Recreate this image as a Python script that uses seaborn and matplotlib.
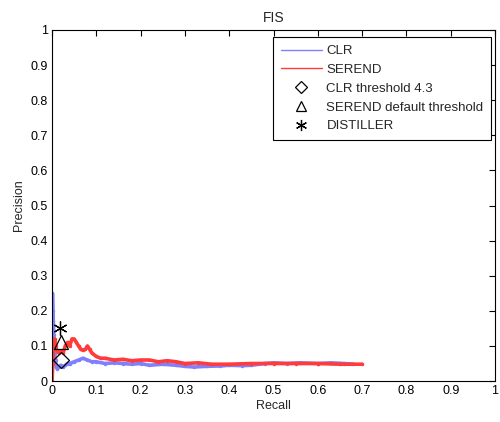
import numpy as np
import pandas as pd
import matplotlib
matplotlib.use("Agg")
import matplotlib.pyplot as plt
from matplotlib.lines import Line2D
import seaborn as sns

# CLR precision-recall curve
clr_recall = [0, 0.001, 0.002, 0.003, 0.004, 0.005, 0.006, 0.008, 0.01, 0.012, 0.015, 0.02,
              0.025, 0.03, 0.035, 0.04, 0.05, 0.06, 0.07, 0.08, 0.09, 0.1, 0.12, 0.14, 0.16,
              0.18, 0.2, 0.22, 0.25, 0.28, 0.3, 0.32, 0.35, 0.38, 0.4, 0.43, 0.45, 0.48, 0.5,
              0.53, 0.56, 0.6, 0.63, 0.66, 0.68]
clr_precision = [0.0, 0.25, 0.2, 0.17, 0.13, 0.1, 0.08, 0.06, 0.04, 0.035, 0.04, 0.045,
                 0.04, 0.045, 0.05, 0.05, 0.055, 0.06, 0.065, 0.06, 0.055, 0.055, 0.05, 0.052,
                 0.05, 0.048, 0.05, 0.045, 0.048, 0.045, 0.042, 0.04, 0.042, 0.043, 0.045,
                 0.044, 0.045, 0.05, 0.052, 0.05, 0.052, 0.05, 0.052, 0.05, 0.048]

# SEREND precision-recall curve
serend_recall = [0, 0.002, 0.004, 0.006, 0.008, 0.01, 0.015, 0.02, 0.025, 0.03, 0.035, 0.04,
                 0.045, 0.05, 0.055, 0.06, 0.065, 0.07, 0.075, 0.08, 0.085, 0.09, 0.1, 0.11,
                 0.12, 0.14, 0.16, 0.18, 0.2, 0.22, 0.24, 0.26, 0.28, 0.3, 0.33, 0.36, 0.4,
                 0.45, 0.5, 0.55, 0.6, 0.65, 0.7]
serend_precision = [0.0, 0.05, 0.1, 0.12, 0.1, 0.09, 0.08, 0.085, 0.08, 0.1, 0.11, 0.1,
                    0.12, 0.12, 0.11, 0.1, 0.09, 0.088, 0.09, 0.1, 0.09, 0.08, 0.07, 0.065,
                    0.065, 0.06, 0.062, 0.058, 0.06, 0.06, 0.055, 0.058, 0.055, 0.05, 0.052,
                    0.048, 0.048, 0.05, 0.05, 0.05, 0.05, 0.048, 0.048]

# single operating points (recall, precision)
clr_thr = (0.02, 0.06)
serend_thr = (0.02, 0.11)
distiller = (0.018, 0.15)

ticks = np.round(np.arange(0, 1.01, 0.1), 1)
tick_labels = ["0", "0.1", "0.2", "0.3", "0.4", "0.5", "0.6", "0.7", "0.8", "0.9", "1"]

sns.set_style("white")
plt.rcParams["font.family"] = ["Liberation Sans", "DejaVu Sans"]

fig = plt.figure(figsize=(5, 4.22), dpi=100)
ax = fig.add_axes([0.104, 0.097, 0.886, 0.832])

clr_df = pd.DataFrame({"recall": clr_recall, "precision": clr_precision})
serend_df = pd.DataFrame({"recall": serend_recall, "precision": serend_precision})

blue = "#8080ff"
red = "#ff3b3b"
sns.lineplot(data=clr_df, x="recall", y="precision", sort=False, estimator=None, ax=ax,
             color=blue, lw=2.6, marker=".", markersize=5, markeredgewidth=0)
sns.lineplot(data=serend_df, x="recall", y="precision", sort=False, estimator=None, ax=ax,
             color=red, lw=2.6, marker=".", markersize=5, markeredgewidth=0)

ax.plot(*clr_thr, ls="none", marker="D", ms=8, mfc="none", mec="k", mew=0.9)
ax.plot(*serend_thr, ls="none", marker="^", ms=10, mfc="none", mec="k", mew=0.9)
ax.plot(*distiller, ls="none", marker=(6, 2, 0), ms=10, mec="k", mew=0.9)

ax.set_xlim(0, 1)
ax.set_ylim(0, 1)
ax.set_xticks(ticks)
ax.set_yticks(ticks)
ax.set_xticklabels(tick_labels)
ax.set_yticklabels(tick_labels)
ax.tick_params(direction="in", length=4, width=0.8, labelsize=9, colors="k",
               top=True, right=True, pad=3)
for s in ax.spines.values():
    s.set_visible(True)
    s.set_color("k")
    s.set_linewidth(0.8)

ax.set_xlabel("Recall", fontsize=9, labelpad=2)
ax.set_ylabel("Precision", fontsize=9, labelpad=4)
ax.set_title("FIS", fontsize=10, pad=6)

handles = [
    Line2D([], [], color=blue, lw=1),
    Line2D([], [], color=red, lw=1),
    Line2D([], [], ls="none", marker="D", ms=6, mfc="none", mec="k", mew=0.9),
    Line2D([], [], ls="none", marker="^", ms=7, mfc="none", mec="k", mew=0.9),
    Line2D([], [], ls="none", marker=(6, 2, 0), ms=8, mec="k", mew=0.9),
]
labels = ["CLR", "SEREND", "CLR threshold 4.3", "SEREND default threshold", "DISTILLER"]
leg = ax.legend(handles, labels, loc="upper right", bbox_to_anchor=(0.992, 0.98),
                borderaxespad=0, fontsize=9.5, frameon=True, fancybox=False,
                edgecolor="k", framealpha=1, handlelength=3.1, handletextpad=0.35,
                labelspacing=0.5, borderpad=0.6)
leg.get_frame().set_linewidth(0.8)

fig.savefig("out.png", dpi=100, facecolor="white")
